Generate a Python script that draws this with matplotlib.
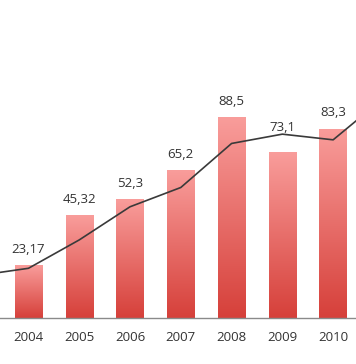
import numpy as np
import matplotlib
matplotlib.use("Agg")
import matplotlib.pyplot as plt
from matplotlib.colors import LinearSegmentedColormap

# Data
years = [2004, 2005, 2006, 2007, 2008, 2009, 2010]
values = [23.17, 45.32, 52.3, 65.2, 88.5, 73.1, 83.3]
labels = ["23,17", "45,32", "52,3", "65,2", "88,5", "73,1", "83,3"]
line_years = [2003, 2004, 2005, 2006, 2007, 2008, 2009, 2010, 2011]
line_values = [18.7, 21.9, 34.4, 49.0, 57.5, 76.9, 81.0, 78.5, 97.0]

plt.rcParams['font.family'] = ['Open Sans', 'DejaVu Sans']

fig = plt.figure(figsize=(3.56, 3.64), dpi=100)
ax = fig.add_axes([0, 0, 1, 1])
ax.set_xlim(2003.44, 2010.45)
ax.set_ylim(-20.26, 140.1)
ax.axis('off')

cmap = LinearSegmentedColormap.from_list("g", [(214/255, 64/255, 58/255), (249/255, 157/255, 155/255)])
grad = np.linspace(0, 1, 256).reshape(-1, 1)

bars = ax.bar(years, values, width=0.54, color='none', edgecolor='none', zorder=2)
for b in bars:
    x0, y0 = b.get_x(), b.get_y()
    w, h = b.get_width(), b.get_height()
    im = ax.imshow(grad, cmap=cmap, origin='lower', aspect='auto',
                   extent=[x0, x0 + w, y0, y0 + h], zorder=2, interpolation='bilinear')
    im.set_clip_path(b)

ax.axhline(0, color='#8a8a8a', lw=1.0, zorder=3)

ax.plot(line_years, line_values, color='#3a3a3a', lw=1.2, zorder=4, clip_on=True)

label_offsets = {2009: 25}
for x, v, lab in zip(years, values, labels):
    ax.annotate(lab, (x, v), xytext=(0, label_offsets.get(x, 16)), textcoords='offset pixels',
                ha='center', va='center', fontsize=9.5, color='#333333', zorder=5)

for x in years:
    ax.text(x, -8.6, str(x), ha='center', va='center', fontsize=9.5, color='#333333')

fig.savefig("out.png", dpi=100)
